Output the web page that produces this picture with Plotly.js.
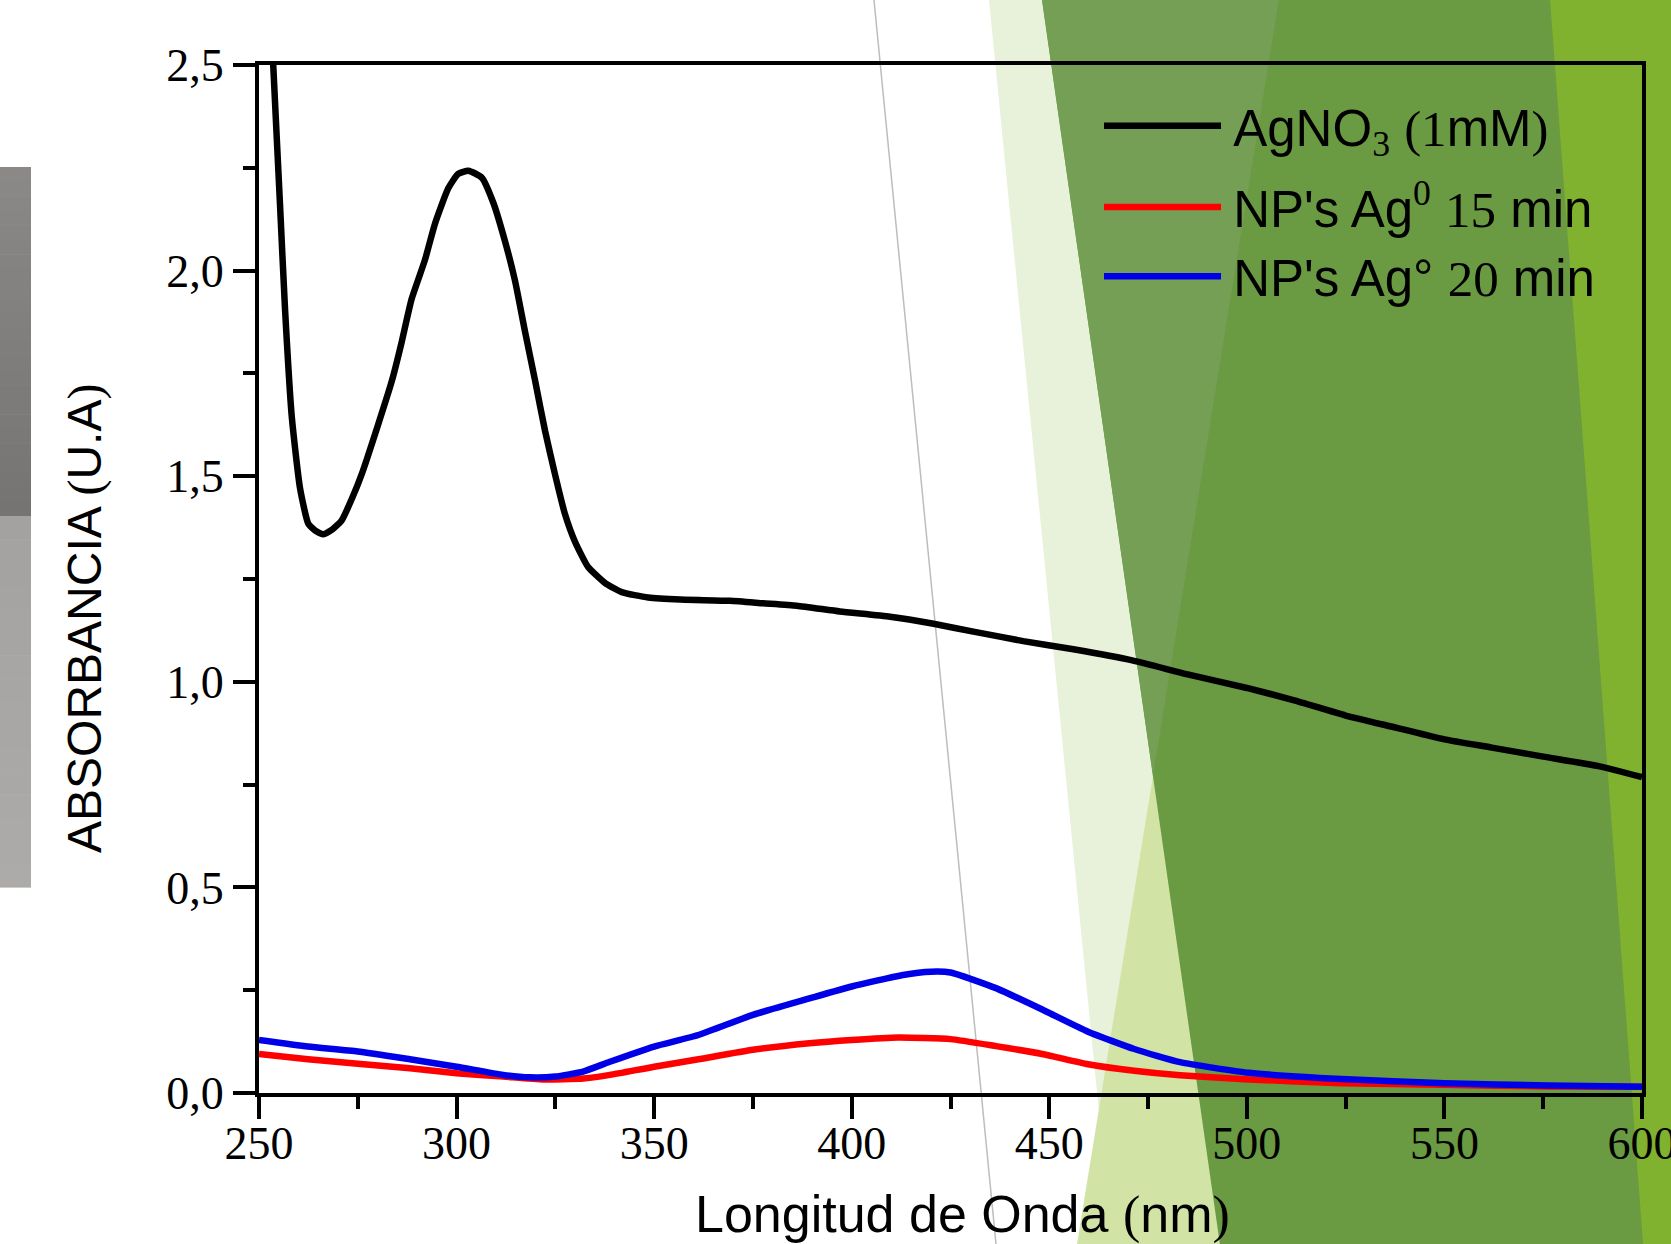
<!DOCTYPE html>
<html>
<head>
<meta charset="utf-8">
<script src="https://cdn.plot.ly/plotly-3.0.1.min.js"></script>
<style>html,body{margin:0;padding:0;background:#fff;}#chart{width:1671px;height:1244px;}</style>
</head>
<body>
<div id="chart"></div>
<script>
// ---- data ----
const agno3Wavelength = [252, 253.6, 255.3, 256.6, 258.3, 260.4, 262.5, 264.5, 266.3, 268.5, 270.9, 273.5, 276, 280.2, 283.6, 286.1, 288.6, 292, 294.5, 297.9, 300.4, 303, 306.4, 309.3, 312.3, 314.8, 317.3, 319.9, 322.4, 324.9, 327.4, 330, 333.3, 337.6, 341.8, 348.5, 356.6, 369.2, 377.6, 386.1, 397, 409.7, 420.7, 430.8, 443.4, 456.1, 471, 485, 500, 512, 525, 538, 550, 562, 575, 589, 600];
const agno3Abs = [2.85, 2.5, 2.164, 1.904, 1.644, 1.47, 1.384, 1.366, 1.359, 1.37, 1.392, 1.445, 1.505, 1.627, 1.731, 1.826, 1.93, 2.026, 2.113, 2.2, 2.235, 2.243, 2.226, 2.165, 2.07, 1.975, 1.853, 1.731, 1.61, 1.505, 1.409, 1.34, 1.279, 1.24, 1.218, 1.205, 1.2, 1.197, 1.191, 1.185, 1.171, 1.158, 1.141, 1.122, 1.099, 1.079, 1.052, 1.018, 0.985, 0.955, 0.918, 0.888, 0.86, 0.84, 0.818, 0.795, 0.768];

const np15Wavelength = [250, 262.4, 275, 288.2, 300, 311.8, 321.9, 332, 338.8, 350, 361.2, 375, 389.3, 400, 411.8, 425, 436.5, 448.2, 459.8, 471.5, 483.1, 500.6, 523.9, 550, 576, 600];
const np15Abs = [0.095, 0.082, 0.071, 0.060, 0.048, 0.040, 0.033, 0.035, 0.044, 0.064, 0.082, 0.105, 0.121, 0.129, 0.135, 0.131, 0.114, 0.095, 0.07, 0.054, 0.043, 0.033, 0.024, 0.02, 0.016, 0.015];

const np20Wavelength = [250, 262.4, 275, 288.2, 300, 311.8, 318.5, 325, 332, 338.8, 350, 361.2, 375, 389.3, 400, 413, 420, 425, 436.5, 448.2, 459.8, 471.5, 483.1, 500.6, 523.9, 550, 576.3, 600];
const np20Abs = [0.129, 0.113, 0.101, 0.082, 0.064, 0.044, 0.038, 0.040, 0.052, 0.076, 0.113, 0.141, 0.19, 0.23, 0.259, 0.287, 0.295, 0.293, 0.255, 0.203, 0.149, 0.107, 0.075, 0.049, 0.034, 0.024, 0.018, 0.015];

const xTickVals = [250, 300, 350, 400, 450, 500, 550, 600];
const yTickVals = [0, 0.5, 1.0, 1.5, 2.0, 2.5];

// ---- text helpers ----
const S = t => '<span style="font-family:Liberation Serif">' + t + '</span>';
const GAP = '<span style="font-size:26px">\u00A0</span>';
const seriesNames = [
  GAP + 'AgNO<sub>' + S('3') + '</sub> ' + S('(1') + 'mM' + S(')'),
  GAP + "NP's Ag<sup>" + S('0') + '</sup> ' + S('15') + ' min',
  GAP + "NP's Ag° " + S('20') + ' min'
];
const xTitle = 'Longitud de Onda ' + S('(') + 'nm' + S(')');
const yTitle = 'ABSORBANCIA ' + S('(') + 'U.A' + S(')');

// ---- page geometry (pixels) for background decoration ----
const L = 259, R = 1642, T = 65, B = 1093;
const px = p => (p - L) / (R - L);
const py = p => (B - p) / (B - T);
function poly(pts, color) {
  const d = pts.map((p, i) => (i ? 'L' : 'M') + px(p[0]) + ',' + py(p[1])).join(' ') + ' Z';
  return {type: 'path', xref: 'paper', yref: 'paper', path: d, fillcolor: color, line: {width: 0}, layer: 'below'};
}
function strip(y0, y1, c0, c1, n) {
  const out = [];
  for (let i = 0; i < n; i++) {
    const a = y0 + (y1 - y0) * i / n, b = y0 + (y1 - y0) * (i + 1) / n;
    const f = (i + 0.5) / n;
    const c = c0.map((v, k) => Math.round(v + (c1[k] - v) * f));
    out.push(poly([[0, a], [31, a], [31, b + 0.6], [0, b + 0.6]], 'rgb(' + c.join(',') + ')'));
  }
  return out;
}
const shapes = [].concat(
  strip(167, 516, [138, 137, 135], [118, 116, 114], 24),
  strip(516, 887, [163, 162, 160], [172, 171, 170], 16),
  [
    poly([[988,-10],[1690,-10],[1690,1254],[1113,1254]], '#e8f1da'),
    poly([[1280.6,-10],[1690,-10],[1690,1254],[1075.4,1254]], '#d1e3a5'),
    poly([[1040.6,-10],[1690,-10],[1690,1254],[1221.3,1254]], '#6a9a42'),
    poly([[1040.6,-10],[1280.6,-10],[1153,776]], '#749f55'),
    poly([[1549.3,-10],[1690,-10],[1690,1254],[1643.8,1254]], '#80b12f'),
    {type: 'line', xref: 'paper', yref: 'paper', x0: px(873), y0: py(-10), x1: px(997), y1: py(1254),
     line: {color: '#bdbdbd', width: 1.5}, layer: 'below'}
  ]
);

const lineW = 6.5;
const traces = [
  {x: agno3Wavelength, y: agno3Abs, name: seriesNames[0], legendgroup: 'a', type: 'scatter', mode: 'lines',
   line: {color: '#000000', width: lineW, shape: 'spline', smoothing: 0.5}},
  {x: np15Wavelength, y: np15Abs, name: seriesNames[1], legendgroup: 'b', type: 'scatter', mode: 'lines',
   line: {color: '#ff0000', width: lineW, shape: 'spline', smoothing: 0.5}},
  {x: np20Wavelength, y: np20Abs, name: seriesNames[2], legendgroup: 'b', type: 'scatter', mode: 'lines',
   line: {color: '#0000e8', width: lineW, shape: 'spline', smoothing: 0.5}}
];

const tickFont = {family: 'Liberation Serif', size: 46, color: '#000'};

const layout = {
  width: 1671, height: 1244,
  margin: {l: L, r: 1671 - R, t: T, b: 1244 - B, pad: 0},
  paper_bgcolor: '#ffffff',
  plot_bgcolor: 'rgba(0,0,0,0)',
  separators: ',.',
  showlegend: true,
  legend: {
    x: px(1099), y: py(86), xanchor: 'left', yanchor: 'top',
    bgcolor: 'rgba(0,0,0,0)', borderwidth: 0,
    font: {family: 'Liberation Sans', size: 51, color: '#000'},
    itemwidth: 117, tracegroupgap: 12, traceorder: 'grouped'
  },
  xaxis: {
    range: [250, 600], tickvals: xTickVals, ticks: 'outside', ticklen: 22, tickwidth: 4,
    tickcolor: '#000', linecolor: '#000', linewidth: 4, mirror: true,
    showgrid: false, zeroline: false, tickfont: tickFont,
    ticklabeloverflow: 'allow', ticklabelstandoff: -15,
    minor: {dtick: 25, tick0: 250, ticks: 'outside', ticklen: 12, tickwidth: 4, tickcolor: '#000', showgrid: false}
  },
  yaxis: {
    range: [0, 2.5], tickvals: yTickVals, tickformat: '.1f', ticks: 'outside', ticklen: 22, tickwidth: 4,
    tickcolor: '#000', linecolor: '#000', linewidth: 4, mirror: true,
    showgrid: false, zeroline: false, tickfont: tickFont,
    minor: {dtick: 0.25, tick0: 0, ticks: 'outside', ticklen: 12, tickwidth: 4, tickcolor: '#000', showgrid: false}
  },
  annotations: [
    {text: xTitle, xref: 'paper', yref: 'paper', x: px(962), y: py(1214), xanchor: 'center', yanchor: 'middle',
     showarrow: false, font: {family: 'Liberation Sans', size: 52, color: '#000'}},
    {text: yTitle, xref: 'paper', yref: 'paper', x: px(85), y: py(618), xanchor: 'center', yanchor: 'middle',
     textangle: -90, showarrow: false, font: {family: 'Liberation Sans', size: 48, color: '#000'}}
  ],
  shapes: shapes
};

Plotly.newPlot('chart', traces, layout, {displayModeBar: false, staticPlot: true});
</script>
</body>
</html>
